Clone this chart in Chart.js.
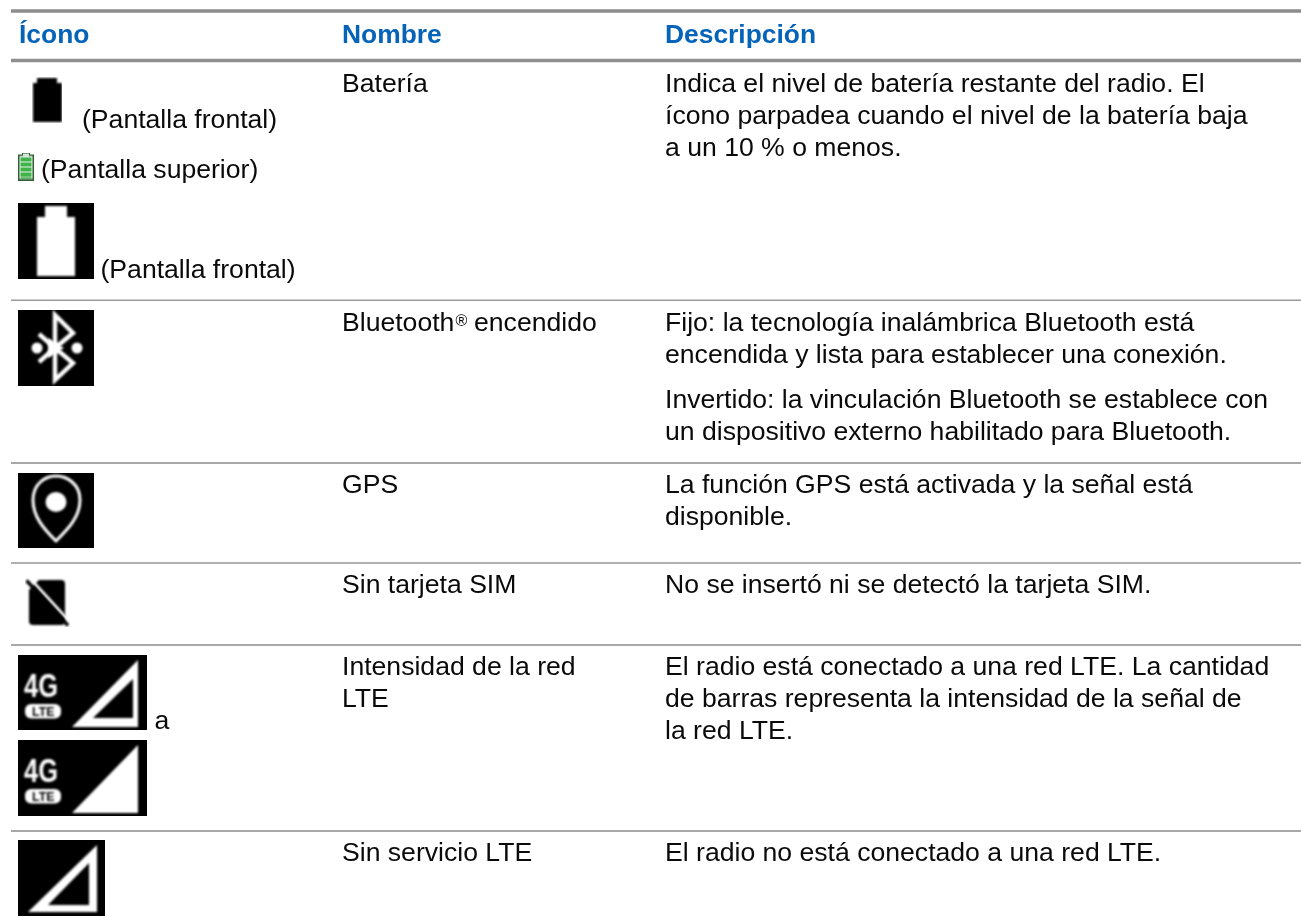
<!DOCTYPE html>
<html lang="es">
<head>
<meta charset="utf-8">
<title>Íconos</title>
<script src="https://cdn.jsdelivr.net/npm/chart.js@4"></script>
<style>
html,body{margin:0;padding:0;background:#fff;overflow:hidden}
canvas{display:block}
</style>
</head>
<body>
<canvas id="c" width="1301" height="924"></canvas>
<script>
// ---- table contents ----
const columnX = [19, 342, 665];
const headers = ["Ícono", "Nombre", "Descripción"];
const headerBaseline = [43, 43, 43];

const ruleY = [11, 60.5, 300.2, 463, 563, 645, 831];

const nameLabels = ["Batería", "Bluetooth", "GPS", "Sin tarjeta SIM", "Intensidad de la red", "LTE", "Sin servicio LTE"];
const nameBaselines = [92, 331, 493, 593, 675, 707, 861];

const descLabels = [
  "Indica el nivel de batería restante del radio. El",
  "ícono parpadea cuando el nivel de la batería baja",
  "a un 10 % o menos.",
  "Fijo: la tecnología inalámbrica Bluetooth está",
  "encendida y lista para establecer una conexión.",
  "Invertido: la vinculación Bluetooth se establece con",
  "un dispositivo externo habilitado para Bluetooth.",
  "La función GPS está activada y la señal está",
  "disponible.",
  "No se insertó ni se detectó la tarjeta SIM.",
  "El radio está conectado a una red LTE. La cantidad",
  "de barras representa la intensidad de la señal de",
  "la red LTE.",
  "El radio no está conectado a una red LTE."
];
const descBaselines = [92, 124, 156, 331, 363, 408, 440, 493, 525, 593, 675, 707, 739, 861];

const captionLabels = ["(Pantalla frontal)", "(Pantalla superior)", "(Pantalla frontal)", "a", "encendido", "®"];
const captionX = [82, 41, 100.5, 154.5, 474, 455.5];
const captionBaselines = [128, 178, 278, 729, 331, 326];

const iconNames = ["batteryBlack", "batteryGreen", "batteryInverse", "bluetooth", "gps", "sim", "lteLow", "lteFull", "lteNone"];
const iconCenterX = [47, 26, 56, 56, 56, 47.5, 82.5, 82.5, 61.5];
const iconCenterY = [100, 166.5, 241, 348, 510.5, 602.5, 692.5, 778, 878];

// ---- icon artwork ----
function art(w, h, bg, draw) {
  const cv = document.createElement('canvas');
  cv.width = w; cv.height = h;
  const g = cv.getContext('2d');
  if (bg) { g.fillStyle = bg; g.fillRect(0, 0, w, h); }
  g.filter = 'blur(0.9px)';
  draw(g);
  return cv;
}
function poly(g, pts, fill) {
  g.beginPath();
  pts.forEach((p, i) => i ? g.lineTo(p[0], p[1]) : g.moveTo(p[0], p[1]));
  g.closePath();
  g.fillStyle = fill;
  g.fill();
}
function signalText(g) {
  g.save();
  g.fillStyle = '#fff';
  g.font = 'bold 33px "Liberation Sans"';
  g.textBaseline = 'alphabetic';
  g.translate(6, 42);
  g.scale(0.77, 1);
  g.fillText('4G', 0, 0);
  g.restore();
  g.beginPath();
  g.roundRect(7, 49, 36, 14.5, 6);
  g.fillStyle = '#fff';
  g.fill();
  g.save();
  g.fillStyle = '#000';
  g.font = 'bold 13px "Liberation Sans"';
  g.translate(14, 61);
  g.scale(0.95, 1);
  g.fillText('LTE', 0, 0);
  g.restore();
}
const icons = {
  batteryBlack: art(30, 46, null, g => {
    poly(g, [[5, 1], [25, 1], [25, 6], [30, 6], [30, 45], [1, 45], [1, 6], [5, 6]], '#000');
  }),
  batteryGreen: art(16, 28, null, g => {
    g.filter = 'none';
    poly(g, [[4, 0], [12, 0], [12, 2], [16, 2], [16, 28], [0, 28], [0, 2], [4, 2]], '#2f5f33');
    g.fillStyle = '#e8f3e8';
    g.fillRect(1.5, 3.5, 13, 23);
    g.fillRect(5, 1.2, 6, 2.4);
    g.fillStyle = '#3fb24a';
    [5, 10, 15, 20].forEach(y => g.fillRect(2.5, y, 11, 4));
    g.fillRect(2.5, 24.6, 11, 1.4);
  }),
  batteryInverse: art(76, 76, '#000', g => {
    poly(g, [[27, 3], [49, 3], [49, 14], [57, 14], [57, 73], [19, 73], [19, 14], [27, 14]], '#fff');
  }),
  bluetooth: art(76, 76, '#000', g => {
    g.strokeStyle = '#fff';
    g.lineWidth = 4.4;
    g.lineJoin = 'miter';
    g.beginPath();
    g.moveTo(37, 5); g.lineTo(37, 70);
    g.lineTo(55, 53); g.lineTo(37, 38); g.lineTo(55, 23); g.closePath();
    g.stroke();
    g.beginPath();
    g.moveTo(21, 24); g.lineTo(37, 38); g.lineTo(21, 52);
    g.stroke();
    poly(g, [[30, 28], [46, 38], [30, 48]], '#fff');
    g.fillStyle = '#fff';
    [[19, 38], [59, 38]].forEach(p => { g.beginPath(); g.arc(p[0], p[1], 5.5, 0, Math.PI * 2); g.fill(); });
  }),
  gps: art(76, 75, '#000', g => {
    g.strokeStyle = '#fff';
    g.lineWidth = 3;
    g.beginPath();
    g.moveTo(38, 68);
    g.bezierCurveTo(26, 56, 15, 44, 15, 27);
    g.bezierCurveTo(15, 11, 27, 3, 38, 3);
    g.bezierCurveTo(49, 3, 62, 11, 62, 27);
    g.bezierCurveTo(62, 44, 50, 56, 38, 68);
    g.closePath();
    g.stroke();
    g.fillStyle = '#fff';
    g.beginPath(); g.ellipse(38, 29, 10.5, 10, 0, 0, Math.PI * 2); g.fill();
  }),
  sim: art(45, 49, null, g => {
    g.beginPath();
    g.moveTo(14, 2); g.lineTo(36, 2);
    g.quadraticCurveTo(40, 2, 40, 6);
    g.lineTo(40, 43);
    g.quadraticCurveTo(40, 47, 36, 47);
    g.lineTo(8, 47);
    g.quadraticCurveTo(4, 47, 4, 43);
    g.lineTo(4, 12);
    g.closePath();
    g.fillStyle = '#000';
    g.fill();
    g.strokeStyle = '#fff';
    g.lineWidth = 3;
    g.beginPath(); g.moveTo(5, 0.5); g.lineTo(44, 43); g.stroke();
    g.strokeStyle = '#000';
    g.lineWidth = 3.4;
    g.beginPath(); g.moveTo(1.5, 2.5); g.lineTo(43, 47.5); g.stroke();
  }),
  lteLow: art(129, 75, '#000', g => {
    signalText(g);
    poly(g, [[54, 72], [120, 5], [120, 72]], '#fff');
    poly(g, [[75, 63], [115, 24], [115, 63]], '#000');
  }),
  lteFull: art(129, 76, '#000', g => {
    signalText(g);
    poly(g, [[54, 73], [120, 5], [120, 73]], '#fff');
  }),
  lteNone: art(87, 76, '#000', g => {
    poly(g, [[10, 72], [79, 5], [79, 72]], '#fff');
    poly(g, [[30, 65], [71, 23], [71, 65]], '#000');
  })
};

// ---- datasets ----
const ruleWidth = [3.6, 3.6, 1.6, 2, 1.6, 2, 2];
const ruleColor = ['#8c8c8c', '#8f8f8f', '#9a9a9a', '#a8a8a8', '#969696', '#a8a8a8', '#a8a8a8'];
const ruleDatasets = ruleY.map((y, i) => ({
  type: 'line',
  data: [{ x: 11, y }, { x: 1301, y }],
  borderColor: ruleColor[i],
  borderWidth: ruleWidth[i],
  pointRadius: 0,
  fill: false,
  label: 'regla ' + (i + 1)
}));

const BODY = '26.6px "Liberation Sans"';
const HEAD = 'bold 26.4px "Liberation Sans"';
const textPoints = [];
headers.forEach((t, i) => textPoints.push({ x: columnX[i], y: headerBaseline[i], t, f: HEAD, c: '#0563b8' }));
nameLabels.forEach((t, i) => textPoints.push({ x: columnX[1], y: nameBaselines[i], t, f: BODY, c: '#0a0a0a' }));
descLabels.forEach((t, i) => textPoints.push({ x: columnX[2], y: descBaselines[i], t, f: BODY, c: '#0a0a0a' }));
captionLabels.forEach((t, i) => textPoints.push({
  x: captionX[i], y: captionBaselines[i], t,
  f: t === '®' ? '16px "Liberation Sans"' : BODY, c: '#0a0a0a'
}));

const textPlugin = {
  id: 'tableText',
  afterDatasetsDraw(chart) {
    const { ctx, scales } = chart;
    ctx.save();
    ctx.textAlign = 'left';
    ctx.textBaseline = 'alphabetic';
    textPoints.forEach(p => {
      ctx.font = p.f;
      ctx.fillStyle = p.c;
      ctx.fillText(p.t, scales.x.getPixelForValue(p.x), scales.y.getPixelForValue(p.y));
    });
    ctx.restore();
  }
};

new Chart(document.getElementById('c'), {
  type: 'scatter',
  data: {
    datasets: [
      ...ruleDatasets,
      {
        label: 'íconos',
        data: iconNames.map((n, i) => ({ x: iconCenterX[i], y: iconCenterY[i] })),
        pointStyle: iconNames.map(n => icons[n]),
        pointRadius: 1,
        showLine: false
      }
    ]
  },
  plugins: [textPlugin],
  options: {
    responsive: false,
    animation: false,
    events: [],
    layout: { padding: 0, autoPadding: false },
    plugins: { legend: { display: false }, tooltip: { enabled: false } },
    scales: {
      x: { type: 'linear', min: 0, max: 1301, display: false },
      y: { type: 'linear', min: 0, max: 924, reverse: true, display: false }
    }
  }
});
</script>
</body>
</html>
